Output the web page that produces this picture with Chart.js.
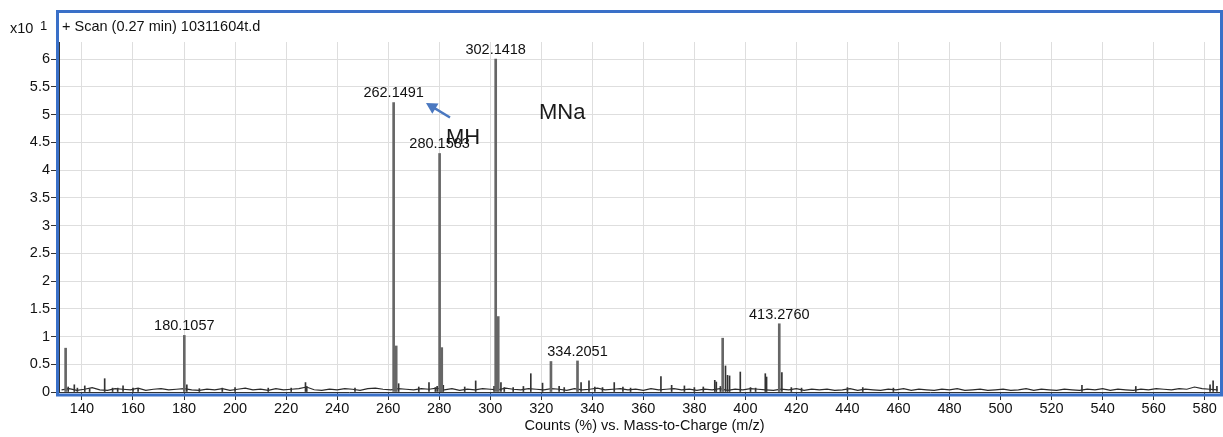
<!DOCTYPE html>
<html lang="en">
<head>
    <meta charset="UTF-8">
    <title>Scan (0.27 min) 10311604t.d</title>
    <script src="https://cdn.jsdelivr.net/npm/chart.js"></script>
    <style>
        body { margin: 0; background: #fff; }
    </style>
</head>
<body>
    <canvas id="spectrum" width="1223" height="437"></canvas>

    <script>
        // Peaks: m/z and counts (x10^1 %)
        const peakMz = [
            133.6, 134.6, 137.0, 138.2, 141.1, 143.0, 148.9, 152.0, 154.0, 156.1, 160.0, 162.0,
            180.1057, 181.1, 186.0, 195.0, 200.0, 213.0, 222.0, 227.6, 228.1, 247.0,
            262.1491, 263.15, 264.1, 272.0, 276.0, 278.5, 279.2, 280.1583, 280.6, 281.0, 281.6,
            290.0, 294.3, 301.5, 302.1418, 303.14, 304.2, 305.5, 309.0, 313.0, 315.9, 320.5,
            323.8, 327.0, 329.0, 334.2051, 335.6, 338.7, 341.0, 344.0, 348.6, 352.0, 355.0,
            366.9, 371.1, 376.1, 380.0, 383.5, 388.0, 388.6, 390.2, 391.1, 392.2, 393.0, 393.8,
            398.0, 402.0, 404.0, 407.8, 408.3, 413.2760, 414.3, 418.0, 422.0, 440.0, 446.0,
            458.0, 531.9, 553.0, 582.1, 583.3, 584.8
        ];
        const peakCounts = [
            0.79, 0.09, 0.13, 0.07, 0.11, 0.06, 0.24, 0.07, 0.07, 0.11, 0.07, 0.06,
            1.02, 0.13, 0.06, 0.07, 0.08, 0.07, 0.07, 0.17, 0.10, 0.07,
            5.22, 0.83, 0.15, 0.09, 0.17, 0.08, 0.10, 4.30, 0.60, 0.80, 0.12,
            0.09, 0.20, 0.10, 6.00, 1.36, 0.17, 0.08, 0.08, 0.10, 0.33, 0.16,
            0.55, 0.10, 0.08, 0.56, 0.17, 0.20, 0.09, 0.08, 0.17, 0.09, 0.07,
            0.28, 0.12, 0.11, 0.08, 0.09, 0.21, 0.18, 0.10, 0.97, 0.47, 0.30, 0.29,
            0.36, 0.08, 0.07, 0.33, 0.27, 1.23, 0.35, 0.08, 0.07, 0.08, 0.08,
            0.07, 0.12, 0.10, 0.13, 0.20, 0.10
        ];

        // Peaks that carry an m/z label
        const labeledMz = [180.1057, 262.1491, 280.1583, 302.1418, 334.2051, 413.2760];

        // Baseline noise, one reading every 3 m/z from 132
        const noiseStart = 132;
        const noiseStep = 3;
        const noiseCounts = [
            0.04, 0.06, 0.03, 0.05, 0.08, 0.04, 0.03, 0.06, 0.05, 0.04, 0.07, 0.03, 0.05, 0.06, 0.04, 0.05,
            0.06, 0.04, 0.03, 0.05, 0.04, 0.06, 0.03, 0.05, 0.07, 0.04, 0.05, 0.03, 0.06, 0.04, 0.05, 0.06,
            0.09, 0.04, 0.03, 0.05, 0.04, 0.06, 0.05, 0.03, 0.06, 0.07, 0.05, 0.04, 0.06, 0.05, 0.04, 0.06,
            0.05, 0.07, 0.04, 0.06, 0.03, 0.05, 0.04, 0.06, 0.05, 0.04, 0.07, 0.05, 0.04, 0.06, 0.05, 0.04,
            0.06, 0.05, 0.03, 0.06, 0.04, 0.05, 0.07, 0.04, 0.05, 0.06, 0.04, 0.05, 0.03, 0.06, 0.04, 0.05,
            0.06, 0.04, 0.05, 0.03, 0.05, 0.04, 0.06, 0.03, 0.05, 0.04, 0.06, 0.05, 0.04, 0.03, 0.05, 0.04,
            0.06, 0.03, 0.05, 0.04, 0.05, 0.03, 0.04, 0.06, 0.03, 0.05, 0.04, 0.03, 0.05, 0.04, 0.06, 0.03,
            0.05, 0.04, 0.03, 0.05, 0.04, 0.06, 0.03, 0.04, 0.05, 0.03, 0.04, 0.05, 0.03, 0.04, 0.06, 0.03,
            0.05, 0.04, 0.03, 0.05, 0.04, 0.03, 0.05, 0.04, 0.06, 0.03, 0.05, 0.04, 0.03, 0.05, 0.04, 0.06,
            0.05, 0.04, 0.06, 0.05, 0.09, 0.06, 0.05, 0.04
        ];

        const xTitle = 'Counts (%) vs. Mass-to-Charge (m/z)';
        const scanTitle = '+ Scan (0.27 min) 10311604t.d';

        const FONT = '"Liberation Sans", Arial, sans-serif';
        const frameBlue = 'rgb(58, 112, 200)';

        const majorPeaks = [];
        const minorPeaks = [];
        peakMz.forEach((mz, i) => {
            const pt = { x: mz, y: peakCounts[i] };
            if (peakCounts[i] >= 0.5) majorPeaks.push(pt); else minorPeaks.push(pt);
        });
        const noise = noiseCounts.map((v, i) => ({ x: noiseStart + i * noiseStep, y: v }));

        // Frame, titles, peak labels and the MH / MNa notes
        const decorations = {
            id: 'decorations',
            afterDraw(chart) {
                const ctx = chart.ctx;
                const xs = chart.scales.x;
                const ys = chart.scales.y;
                const area = chart.chartArea;
                ctx.save();

                // peak labels
                ctx.fillStyle = '#111';
                ctx.font = '14.5px ' + FONT;
                ctx.textAlign = 'center';
                ctx.textBaseline = 'middle';
                labeledMz.forEach(mz => {
                    const i = peakMz.indexOf(mz);
                    const px = xs.getPixelForValue(mz);
                    const py = ys.getPixelForValue(peakCounts[i]);
                    ctx.fillText(mz.toFixed(4), px, py - 9);
                });

                // blue frame around the panel
                ctx.strokeStyle = frameBlue;
                ctx.lineWidth = 3;
                ctx.strokeRect(57.5, 11.5, 1164, 383.5);

                // panel title and scale factor
                ctx.fillStyle = '#111';
                ctx.textAlign = 'left';
                ctx.font = '14.5px ' + FONT;
                ctx.fillText(scanTitle, 62, 27);
                ctx.fillText('x10', 10, 29);
                ctx.font = '13px ' + FONT;
                ctx.fillText('1', 40, 26);

                // x axis title
                ctx.textAlign = 'center';
                ctx.font = '14.5px ' + FONT;
                ctx.fillText(xTitle, (area.left + area.right) / 2 + 5, 426);

                // ion notes
                ctx.textAlign = 'left';
                ctx.font = '22px ' + FONT;
                ctx.fillStyle = '#1a1a1a';
                ctx.fillText('MH', 446, 138);
                ctx.fillText('MNa', 539, 113);

                // arrow pointing at the MH peak
                const tail = { x: 450, y: 117.5 };
                const tip = { x: 426, y: 103 };
                const ang = Math.atan2(tip.y - tail.y, tip.x - tail.x);
                ctx.strokeStyle = 'rgb(74, 120, 192)';
                ctx.fillStyle = 'rgb(74, 120, 192)';
                ctx.lineWidth = 2.5;
                ctx.beginPath();
                ctx.moveTo(tail.x, tail.y);
                ctx.lineTo(tip.x - 8 * Math.cos(ang), tip.y - 8 * Math.sin(ang));
                ctx.stroke();
                ctx.beginPath();
                ctx.moveTo(tip.x, tip.y);
                ctx.lineTo(tip.x - 11 * Math.cos(ang) + 6 * Math.sin(ang), tip.y - 11 * Math.sin(ang) - 6 * Math.cos(ang));
                ctx.lineTo(tip.x - 11 * Math.cos(ang) - 6 * Math.sin(ang), tip.y - 11 * Math.sin(ang) + 6 * Math.cos(ang));
                ctx.closePath();
                ctx.fill();

                ctx.restore();
            }
        };

        new Chart(document.getElementById('spectrum').getContext('2d'), {
            type: 'bar',
            data: {
                datasets: [
                    {
                        type: 'line',
                        data: noise,
                        borderColor: '#2a2a2a',
                        borderWidth: 1.2,
                        pointRadius: 0,
                        tension: 0,
                        order: 3
                    },
                    {
                        data: minorPeaks,
                        backgroundColor: '#333',
                        barThickness: 1,
                        grouped: false,
                        order: 2
                    },
                    {
                        data: majorPeaks,
                        backgroundColor: '#666',
                        barThickness: 2,
                        grouped: false,
                        order: 1
                    }
                ]
            },
            options: {
                responsive: false,
                animation: false,
                layout: { padding: { left: 0, top: 42, right: 3, bottom: 0 } },
                plugins: {
                    legend: { display: false },
                    tooltip: { enabled: false }
                },
                scales: {
                    x: {
                        type: 'linear',
                        min: 131,
                        max: 586,
                        offset: false,
                        grid: { color: '#dedede', tickColor: '#333', tickLength: 8, offset: false },
                        border: { color: '#333' },
                        ticks: {
                            stepSize: 20,
                            includeBounds: false,
                            maxRotation: 0,
                            padding: 0,
                            color: '#111',
                            font: { family: FONT, size: 14.5 }
                        },
                        afterFit(scale) { scale.height = 45; }
                    },
                    y: {
                        min: 0,
                        max: 6.31,
                        grid: { color: '#dedede', tickColor: '#333', tickLength: 8 },
                        border: { color: '#333' },
                        ticks: {
                            stepSize: 0.5,
                            includeBounds: false,
                            padding: 1,
                            color: '#111',
                            font: { family: FONT, size: 14.5 },
                            callback: value => String(Math.round(value * 10) / 10)
                        },
                        afterFit(scale) { scale.width = 59; }
                    }
                }
            },
            plugins: [decorations]
        });
    </script>
</body>
</html>
